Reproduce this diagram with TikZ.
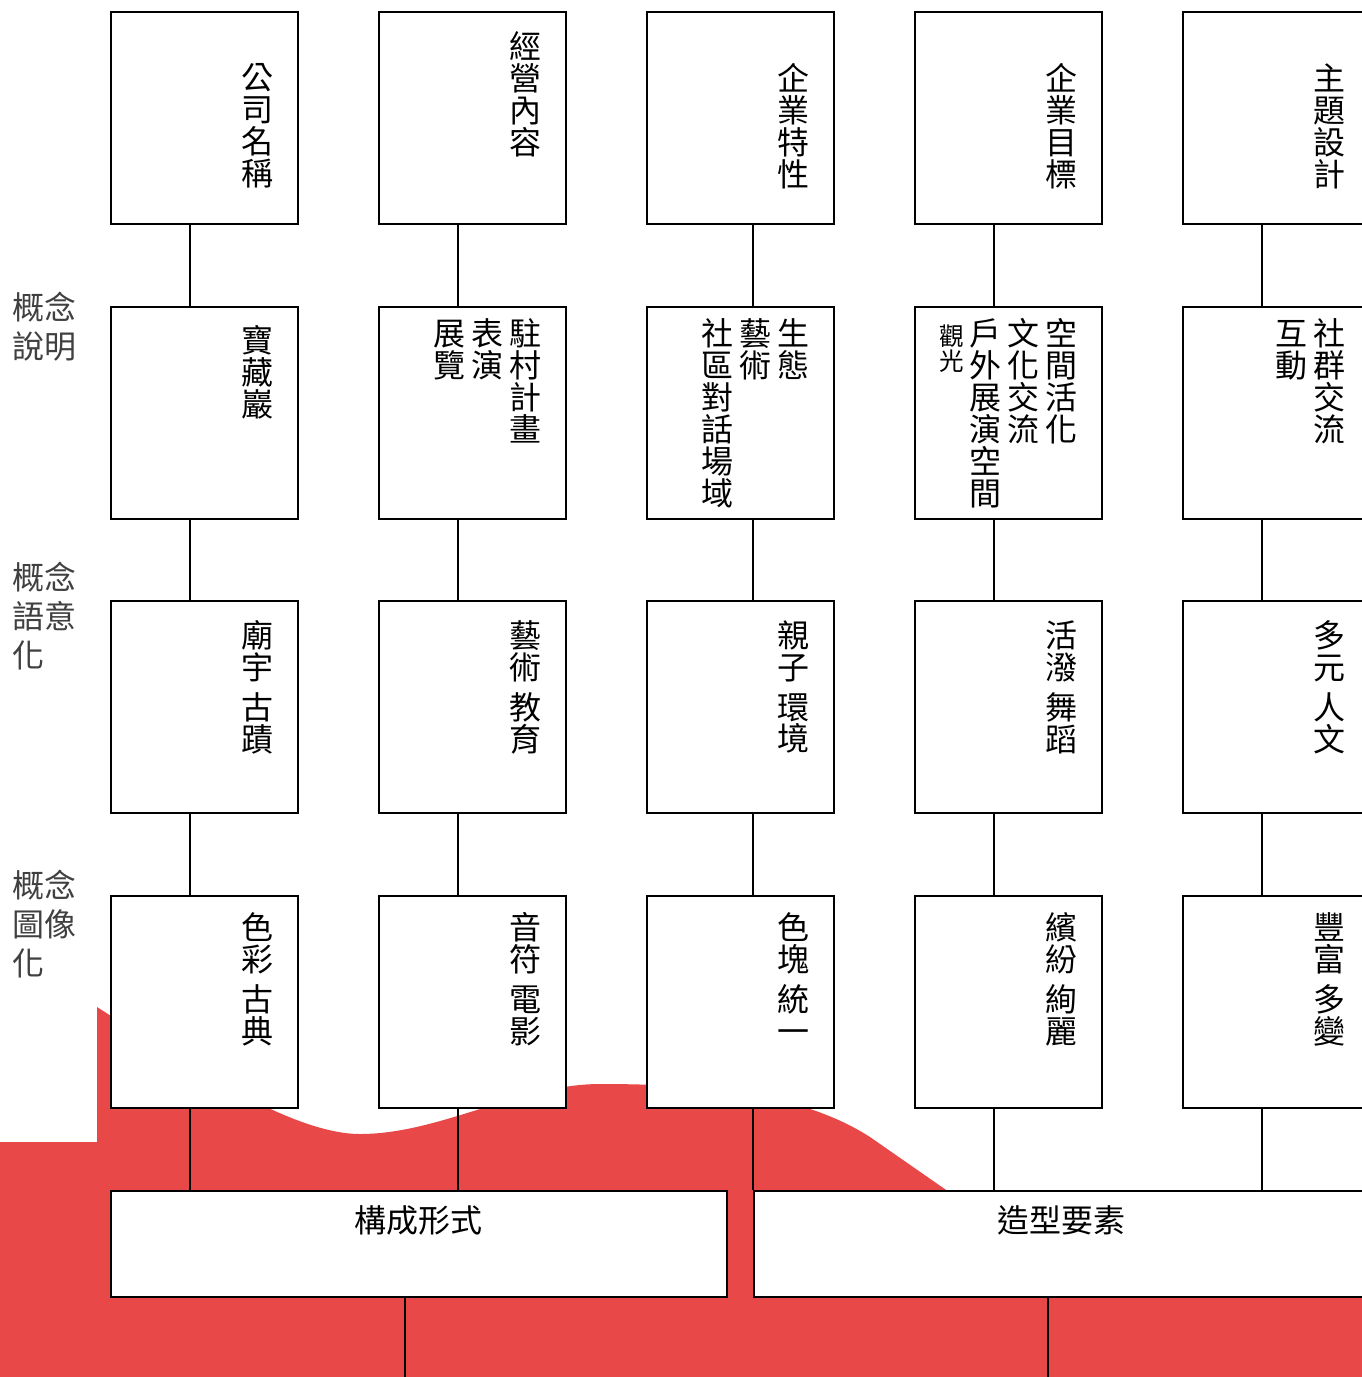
\documentclass[tikz,border=0pt]{standalone}
\usepackage{fontspec}
\setmainfont{Noto Sans CJK TC}
\definecolor{wave}{RGB}{233,72,72}
\definecolor{side}{RGB}{64,64,64}

\ExplSyntaxOn
\NewDocumentCommand \vstack { m }
  {
    \vtop
      {
        \baselineskip=1em \lineskiplimit=-\maxdimen
        \tl_map_inline:nn {#1}
          {
            \tl_if_eq:nnTF {##1} {/}
              { \kern .25em }
              { \hbox to 1em {\hss ##1 \hss} }
          }
      }
  }
\ExplSyntaxOff
\newcommand\cgap{\hspace{3.4pt}}

\begin{document}
\begin{tikzpicture}[x=0.02cm,y=-0.02cm,
   box/.style={draw,line width=1.1pt,fill=white,minimum width=3.74cm,minimum height=4.25cm,anchor=north west,inner sep=0pt},
   wide/.style={draw,line width=1.1pt,fill=white,minimum width=12.32cm,minimum height=2.13cm,anchor=north west,inner sep=0pt},
   vtxt/.style={anchor=north east,inner sep=0pt,xshift=-0.5cm,font=\fontsize{18.2pt}{18.2pt}\selectfont},
   side/.style={anchor=north west,align=left,inner sep=0pt,text=side,font=\fontsize{18.2pt}{22.1pt}\selectfont},
   link/.style={line width=0.85pt}]
\useasboundingbox (0,0) rectangle (1362,1377);
\clip (0,0) rectangle (1362,1377);

% red wave behind the chart
\fill[wave] (0,1142) -- (97,1142) -- (97,1007)
   .. controls (180,1060) and (290,1134) .. (360,1134)
   .. controls (440,1134) and (520,1084) .. (600,1084)
   .. controls (700,1084) and (800,1092) .. (870,1137)
   -- (1100,1297) -- (1362,1297) -- (1362,1377) -- (0,1377) -- cycle;

\foreach \c/\x in {1/110,2/378,3/646,4/914,5/1182}
  \foreach \r/\y in {1/11,2/306,3/600,4/895}
    \node[box] (c\c r\r) at (\x,\y) {};

\node[wide] (form) at (110,1190) {};
\node[wide] (ess) at (753,1190) {};

% texts in the boxes
\node[vtxt,yshift=-1.04cm] (t11) at (c1r1.north east) {\vstack{公司名稱}};
\node[vtxt,yshift=-0.40cm] (t21) at (c2r1.north east) {\vstack{經營內容}};
\node[vtxt,yshift=-1.04cm] (t31) at (c3r1.north east) {\vstack{企業特性}};
\node[vtxt,yshift=-1.04cm] (t41) at (c4r1.north east) {\vstack{企業目標}};
\node[vtxt,yshift=-1.04cm] (t51) at (c5r1.north east) {\vstack{主題設計}};

\node[vtxt,yshift=-0.38cm] (t12) at (c1r2.north east) {\vstack{寶藏巖}};
\node[vtxt,yshift=-0.24cm] (t22) at (c2r2.north east) {\vstack{展覽}\cgap\vstack{表演}\cgap\vstack{駐村計畫}};
\node[vtxt,yshift=-0.24cm] (t32) at (c3r2.north east) {\vstack{社區對話場域}\cgap\vstack{藝術}\cgap\vstack{生態}};
\node[vtxt,yshift=-0.24cm] (t42) at (c4r2.north east) {{\fontsize{14pt}{14pt}\selectfont\vstack{觀光}}\cgap\vstack{戶外展演空間}\cgap\vstack{文化交流}\cgap\vstack{空間活化}};
\node[vtxt,yshift=-0.24cm] (t52) at (c5r2.north east) {\vstack{互動}\cgap\vstack{社群交流}};

\node[vtxt,yshift=-0.40cm] (t13) at (c1r3.north east) {\vstack{廟宇/古蹟}};
\node[vtxt,yshift=-0.40cm] (t23) at (c2r3.north east) {\vstack{藝術/教育}};
\node[vtxt,yshift=-0.40cm] (t33) at (c3r3.north east) {\vstack{親子/環境}};
\node[vtxt,yshift=-0.40cm] (t43) at (c4r3.north east) {\vstack{活潑/舞蹈}};
\node[vtxt,yshift=-0.40cm] (t53) at (c5r3.north east) {\vstack{多元/人文}};

\node[vtxt,yshift=-0.34cm] (t14) at (c1r4.north east) {\vstack{色彩/古典}};
\node[vtxt,yshift=-0.34cm] (t24) at (c2r4.north east) {\vstack{音符/電影}};
\node[vtxt,yshift=-0.34cm] (t34) at (c3r4.north east) {\vstack{色塊/統一}};
\node[vtxt,yshift=-0.34cm] (t44) at (c4r4.north east) {\vstack{繽紛/絢麗}};
\node[vtxt,yshift=-0.34cm] (t54) at (c5r4.north east) {\vstack{豐富/多變}};

\node[anchor=north,inner sep=0pt,yshift=-0.3cm,font=\fontsize{18.2pt}{18.2pt}\selectfont] (tform) at (form.north) {構成形式};
\node[anchor=north,inner sep=0pt,yshift=-0.3cm,font=\fontsize{18.2pt}{18.2pt}\selectfont] (tess) at (ess.north) {造型要素};

% row titles on the left
\node[side] (s2) at (12,292) {概念\\說明};
\node[side] (s3) at (12,562) {概念\\語意\\化};
\node[side] (s4) at (12,870) {概念\\圖像\\化};

% connectors
\foreach \c/\d in {1/1.6cm,2/1.6cm,3/2.14cm,4/1.6cm,5/1.6cm}
  \foreach \r/\s in {1/2,2/3,3/4}
    \draw[link] ([xshift=\d]c\c r\r.south west) -- ([xshift=\d]c\c r\s.north west);

\foreach \c/\d in {1/1.6cm,2/1.6cm}{
  \coordinate (l\c) at ([xshift=\d]c\c r4.south west);
  \draw[link] (l\c) -- (l\c |- form.north);
}
\foreach \c/\d in {3/2.14cm,4/1.6cm,5/1.6cm}{
  \coordinate (l\c) at ([xshift=\d]c\c r4.south west);
  \draw[link] (l\c) -- (l\c |- ess.north);
}
\draw[link] ([xshift=5.9cm]form.south west) -- ++(0,81) -| ([xshift=5.9cm]ess.south west);
\end{tikzpicture}
\end{document}
